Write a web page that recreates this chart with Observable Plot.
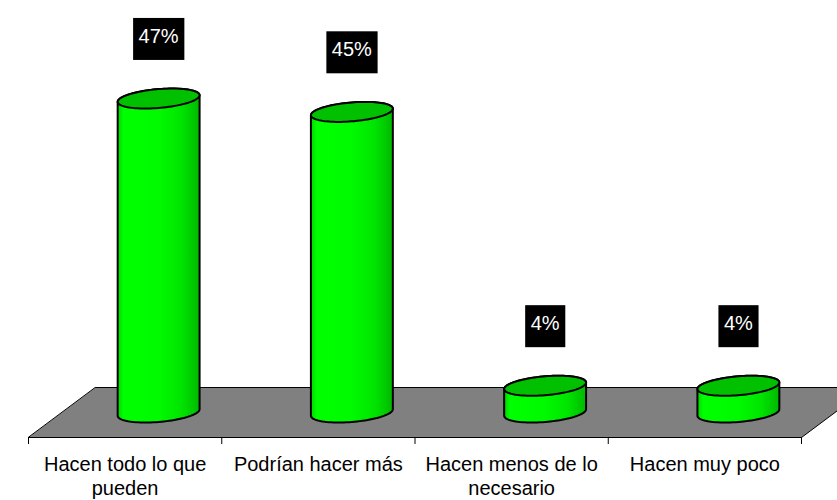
<!DOCTYPE html>
<html><head><meta charset="utf-8">
<script src="https://cdn.jsdelivr.net/npm/d3@7"></script>
<script src="https://cdn.jsdelivr.net/npm/@observablehq/plot@0.6"></script>
<style>body{margin:0;background:#fff;}</style>
</head><body><div id="chart"></div>
<script>
const categories = ["Hacen todo lo que\npueden", "Podrían hacer más", "Hacen menos de lo\nnecesario", "Hacen muy poco"];
const values = [47, 45, 4, 4];
const valueLabels = ["47%", "45%", "4%", "4%"];

const W = 837, H = 500;
const xLeft = 28, xRight = 801, yFloor = 437;
const pxPerCat = (xRight - xLeft) / categories.length;
const pxPerPct = 6.68;
const DX = 67 / pxPerCat, DY = 50 / pxPerPct;   // oblique floor depth in data units
const A = 38.7 / pxPerCat;                       // cylinder radius along x
const B = 0.2;                                   // cylinder radius along depth (fraction)
const th0 = Math.atan2(B * DX * pxPerCat, A * pxPerCat);

function pt(i, v, t) {
  return {
    bar: i,
    x: i + 0.5 + DX / 2 + A * Math.cos(t) + B * DX * Math.sin(t),
    y: v + DY / 2 + B * DY * Math.sin(t)
  };
}
const N = 48;
const bodyPts = [], topPts = [];
values.forEach((v, i) => {
  for (let k = 0; k <= N; k++) bodyPts.push(pt(i, 0, th0 + Math.PI + Math.PI * k / N));
  for (let k = 0; k <= N; k++) bodyPts.push(pt(i, v, th0 + Math.PI * k / N));
  for (let k = 0; k < 2 * N; k++) topPts.push(pt(i, v, Math.PI * k / N));
});
const floorPts = [
  {x: 0, y: 0}, {x: categories.length, y: 0},
  {x: categories.length + DX, y: DY}, {x: DX, y: DY}
];

const defsMark = () => {
  const defs = d3.create("svg:defs");
  const g = defs.append("linearGradient").attr("id", "cylGrad")
    .attr("x1", 0).attr("x2", 1).attr("y1", 0).attr("y2", 0);
  [[0, "#00d400"], [0.07, "#00ff00"], [0.5, "#00fa00"], [0.78, "#00e400"], [1, "#00b800"]]
    .forEach(([o, c]) => g.append("stop").attr("offset", o).attr("stop-color", c));
  return defs.node();
};

const chart = Plot.plot({
  width: W, height: H,
  marginLeft: xLeft, marginRight: W - xRight, marginTop: 0, marginBottom: H - yFloor,
  style: {fontFamily: "'Liberation Sans', Arial, sans-serif", background: "white"},
  x: {type: "linear", domain: [0, categories.length], axis: null},
  y: {type: "linear", domain: [0, yFloor / pxPerPct], axis: null},
  marks: [
    defsMark,
    Plot.line(floorPts, {x: "x", y: "y", curve: "linear-closed", fill: "#808080", stroke: "black", strokeWidth: 1}),
    Plot.ruleX(d3.range(categories.length + 1), {y1: 0, y2: -7 / pxPerPct, stroke: "black", strokeWidth: 1}),
    Plot.line(bodyPts, {x: "x", y: "y", z: "bar", curve: "linear-closed", fill: "url(#cylGrad)", stroke: "black", strokeWidth: 2, strokeLinejoin: "round"}),
    Plot.line(topPts, {x: "x", y: "y", z: "bar", curve: "linear-closed", fill: "#00c000", stroke: "black", strokeWidth: 2, strokeLinejoin: "round"}),
    Plot.text(values, {x: (d, i) => i + 0.5 + DX / 2, y: d => d + DY / 2, text: (d, i) => valueLabels[i],
      dy: -62, fill: "white", fontSize: 20}),
    Plot.text(categories, {x: (d, i) => i + 0.5, y: 0, text: d => d, lineAnchor: "top", dy: 16,
      fontSize: 20, lineHeight: 1.2, fill: "black"})
  ]
});
document.getElementById("chart").appendChild(chart);

d3.select(chart).selectAll("text")
  .filter(function () { return valueLabels.includes(this.textContent) && this.closest('g[fill="white"]'); })
  .each(function () {
    const bb = this.getBBox();
    const r = d3.select(this.parentNode).insert("rect", () => this)
      .attr("x", bb.x - 5.5).attr("y", bb.y - 7)
      .attr("width", bb.width + 11).attr("height", bb.height + 20)
      .attr("fill", "black");
    const tr = this.getAttribute("transform");
    if (tr) r.attr("transform", tr);
  });
</script>
</body></html>
